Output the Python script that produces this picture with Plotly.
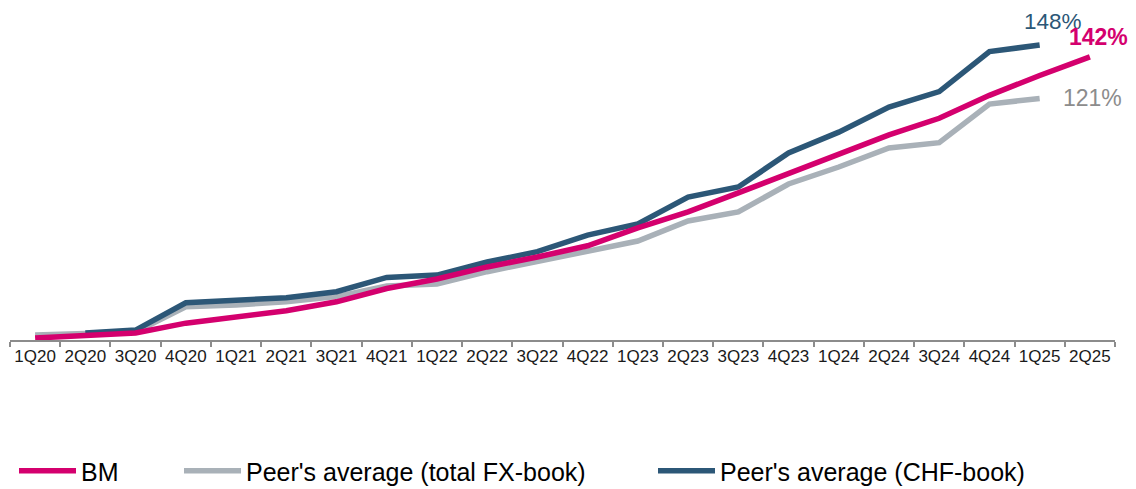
import plotly.graph_objects as go

quarters = ["1Q20", "2Q20", "3Q20", "4Q20", "1Q21", "2Q21", "3Q21", "4Q21",
            "1Q22", "2Q22", "3Q22", "4Q22", "1Q23", "2Q23", "3Q23", "4Q23",
            "1Q24", "2Q24", "3Q24", "4Q24", "1Q25", "2Q25"]

bm = [0, 1, 2.5, 7.5, 10.5, 13.8, 18.3, 25, 29.8, 35.9, 40.9, 46.6, 55.6, 63.7,
      73.3, 82.9, 92.5, 102.6, 111, 122.6, 132.6, 142]

peer_total = [1.5, 2, 3, 15.8, 16.7, 18.3, 20.9, 26.3, 27.3, 33.5, 38.6, 43.6,
              49, 59.1, 63.7, 77.8, 86.4, 96, 98.7, 118.2, 121, None]

peer_chf = [None, 2.5, 4, 17.8, 18.8, 20.4, 23.4, 30.6, 31.8, 38.4, 43.6, 52,
            57.6, 71.2, 76.3, 93.5, 104, 116.7, 124.5, 144.7, 148, None]

end_labels = {"bm": "142%", "total": "121%", "chf": "148%"}

PINK = "#D4006E"
GREY = "#A9B1B8"
BLUE = "#2C5777"
FONT = "Liberation Sans, Arial, sans-serif"

fig = go.Figure()
fig.add_trace(go.Scatter(x=quarters, y=peer_total, mode="lines", name="Peer's average (total FX-book)",
                         line=dict(color=GREY, width=5.5), legend="legend2"))
fig.add_trace(go.Scatter(x=quarters, y=peer_chf, mode="lines", name="Peer's average (CHF-book)",
                         line=dict(color=BLUE, width=5.5), legend="legend3"))
fig.add_trace(go.Scatter(x=quarters, y=bm, mode="lines", name="BM",
                         line=dict(color=PINK, width=5.5), legend="legend"))

fig.add_annotation(x=quarters[20], y=peer_chf[20], text=end_labels["chf"], showarrow=False,
                   xshift=13, yshift=24, font=dict(family=FONT, size=22.5, color=BLUE))
fig.add_annotation(x=quarters[21], y=bm[21], text="<b>" + end_labels["bm"] + "</b>", showarrow=False,
                   xshift=9, yshift=20, font=dict(family=FONT, size=23, color=PINK))
fig.add_annotation(x=quarters[20], y=peer_total[20], text=end_labels["total"], showarrow=False,
                   xshift=53, yshift=0, font=dict(family=FONT, size=23, color="#8C8C8C"))

leg_common = dict(orientation="h", yanchor="middle", y=-0.397, xanchor="left",
                  font=dict(family=FONT, size=25, color="#000000"), bgcolor="rgba(0,0,0,0)",
                  itemwidth=57)

PW = 1105  # plot width in px
fig.update_layout(
    width=1128, height=481,
    margin=dict(l=2, r=21, t=2, b=149, autoexpand=False),
    paper_bgcolor="white", plot_bgcolor="white",
    font=dict(family=FONT),
    xaxis=dict(type="category", range=[-0.5, 21.5], showgrid=False, zeroline=False,
               showline=True, linecolor="#8C8C8C", linewidth=1.5,
               ticks="outside", tickson="boundaries", ticklen=5, tickcolor="#8C8C8C", tickwidth=1.5,
               tickangle=0,
               tickfont=dict(family=FONT, size=17, color="#1A1A1A"), fixedrange=True),
    yaxis=dict(range=[-1.0, 165.7], showgrid=False, zeroline=False, showline=False,
               showticklabels=False, ticks="", fixedrange=True),
    legend=dict(x=(6 - 2) / PW, **leg_common),
    legend2=dict(x=(171 - 2) / PW, **leg_common),
    legend3=dict(x=(645 - 2) / PW, **leg_common),
    showlegend=True,
)

fig.write_html("out.html")
